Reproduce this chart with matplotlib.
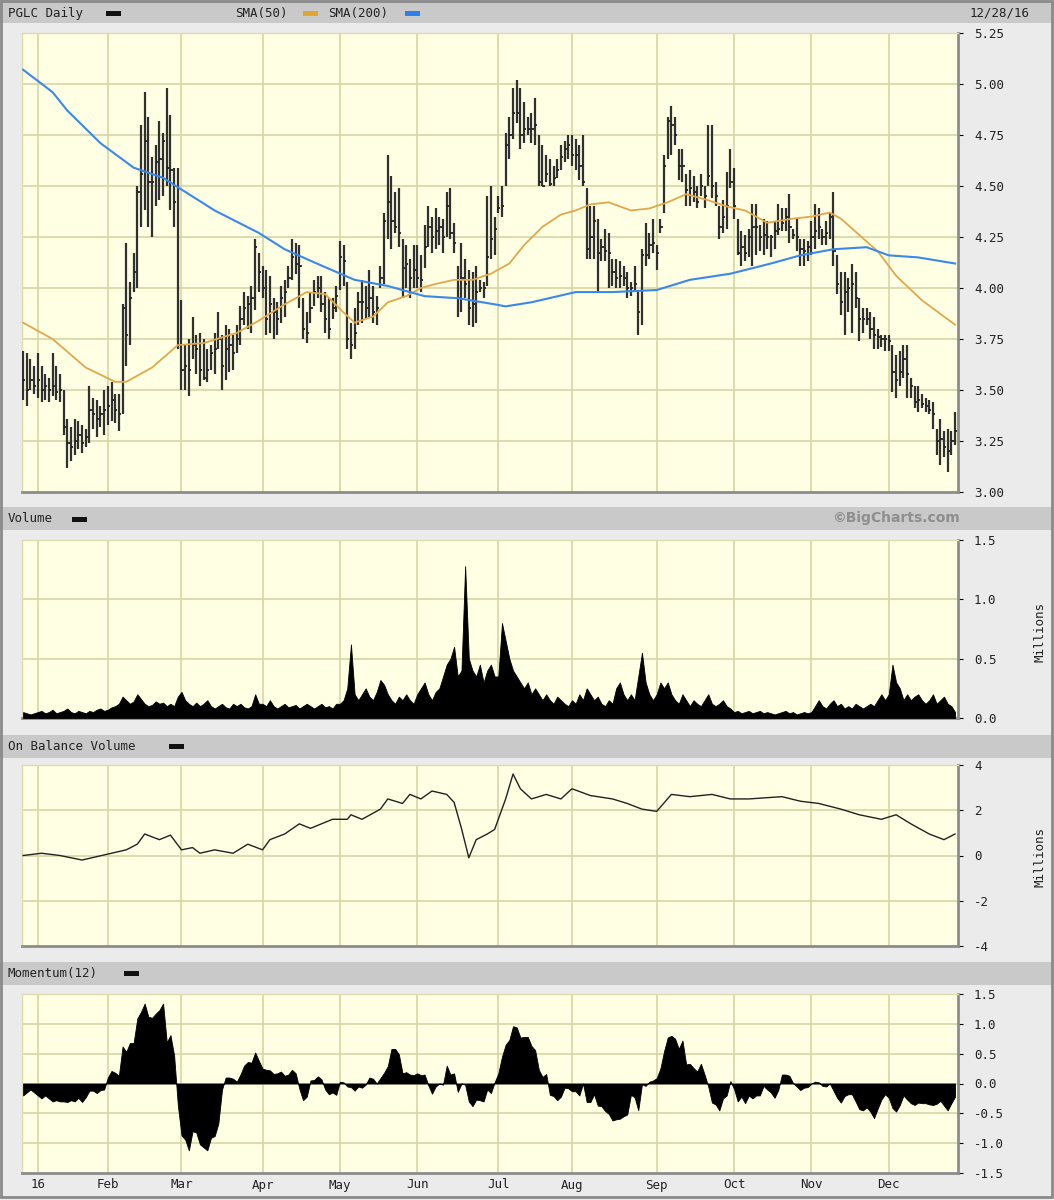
import numpy as np
import pandas as pd
import matplotlib
matplotlib.use("Agg")
import matplotlib.pyplot as plt
from matplotlib.patches import Rectangle

# ---------------- DATA ----------------
holidays = ['2016-01-01', '2016-01-18', '2016-02-15', '2016-03-25', '2016-05-30',
            '2016-07-04', '2016-09-05', '2016-11-24', '2016-12-26']
dates = pd.bdate_range('2015-12-28', '2016-12-28', freq='C', holidays=holidays)

high = [3.69, 3.68, 3.65, 3.62,
        3.68, 3.62, 3.58, 3.56, 3.68, 3.62, 3.58, 3.50, 3.36, 3.32, 3.36, 3.35, 3.33, 3.31, 3.52, 3.46, 3.45, 3.42, 3.50,
        3.52, 3.54, 3.48, 3.48, 3.92, 4.22, 4.03, 4.17, 4.50, 4.80, 4.96, 4.84, 4.64, 4.70, 4.82, 4.76, 4.98, 4.85, 4.59, 4.59,
        3.94, 3.72, 3.75, 3.86, 3.77, 3.78, 3.75, 3.70, 3.72, 3.78, 3.88, 3.77, 3.82, 3.80, 3.77, 3.82, 3.91, 3.98, 3.96, 4.01, 4.24, 4.17,
        4.11, 4.09, 4.06, 3.95, 3.93, 4.01, 4.04, 4.11, 4.24, 4.22, 4.21, 3.95, 3.88, 3.98, 4.04, 4.06, 4.06, 3.98, 3.95, 3.95, 4.01,
        4.23, 4.21, 4.03, 3.83, 3.90, 3.98, 4.04, 4.01, 4.09, 4.01, 3.96, 4.11, 4.37, 4.65, 4.55, 4.47, 4.49, 4.24, 4.21, 4.14, 4.21,
        4.21, 4.16, 4.31, 4.40, 4.35, 4.39, 4.35, 4.34, 4.47, 4.49, 4.32, 4.11, 4.22, 4.14, 4.09, 4.08, 4.11, 4.04, 4.03, 4.45, 4.50, 4.35,
        4.45, 4.50, 4.76, 4.84, 4.98, 5.02, 4.98, 4.91, 4.84, 4.86, 4.93, 4.75, 4.70, 4.65, 4.63, 4.60, 4.63, 4.70, 4.72, 4.75,
        4.75, 4.73, 4.70, 4.75, 4.49, 4.40, 4.40, 4.34, 4.24, 4.29, 4.27, 4.14, 4.14, 4.13, 4.11, 4.08, 4.03, 4.11, 3.99, 4.19, 4.32, 4.27, 4.34,
        4.21, 4.34, 4.65, 4.84, 4.89, 4.84, 4.68, 4.68, 4.56, 4.58, 4.55, 4.50, 4.56, 4.50, 4.80, 4.80, 4.52, 4.40, 4.43, 4.57, 4.68,
        4.59, 4.34, 4.28, 4.26, 4.29, 4.41, 4.41, 4.31, 4.34, 4.33, 4.26, 4.33, 4.41, 4.39, 4.39, 4.46, 4.29, 4.34, 4.24, 4.24, 4.23,
        4.33, 4.41, 4.39, 4.29, 4.33, 4.37, 4.47, 4.16, 4.08, 4.08, 4.05, 4.12, 4.08, 3.95, 3.90, 3.90, 3.88, 3.86, 3.80, 3.77, 3.77,
        3.77, 3.72, 3.67, 3.69, 3.72, 3.72, 3.56, 3.52, 3.52, 3.48, 3.46, 3.45, 3.44, 3.31, 3.36, 3.30, 3.31, 3.30, 3.39]

low = [3.45, 3.42, 3.50, 3.48,
       3.46, 3.44, 3.45, 3.44, 3.47, 3.45, 3.44, 3.28, 3.12, 3.15, 3.18, 3.21, 3.19, 3.22, 3.24, 3.31, 3.27, 3.32, 3.28,
       3.33, 3.35, 3.34, 3.30, 3.38, 3.62, 3.72, 3.98, 4.00, 4.30, 4.38, 4.30, 4.25, 4.40, 4.43, 4.45, 4.50, 4.38, 4.30, 3.70,
       3.50, 3.50, 3.47, 3.65, 3.58, 3.52, 3.55, 3.54, 3.60, 3.58, 3.70, 3.50, 3.55, 3.59, 3.60, 3.68, 3.72, 3.82, 3.80, 3.78, 3.89, 3.98,
       3.95, 3.77, 3.78, 3.75, 3.77, 3.83, 3.86, 4.00, 4.04, 4.07, 3.90, 3.75, 3.73, 3.83, 3.91, 3.95, 3.88, 3.78, 3.75, 3.85, 3.88,
       3.99, 4.01, 3.70, 3.65, 3.70, 3.82, 3.83, 3.85, 3.86, 3.83, 3.82, 4.00, 4.02, 4.24, 4.19, 4.27, 4.20, 3.95, 4.00, 3.95, 4.00,
       4.00, 3.98, 4.10, 4.20, 4.17, 4.19, 4.21, 4.17, 4.25, 4.24, 4.17, 3.86, 3.88, 3.95, 3.82, 3.81, 3.83, 3.98, 3.95, 4.01, 4.14, 4.16,
       4.37, 4.35, 4.50, 4.63, 4.73, 4.81, 4.68, 4.71, 4.75, 4.71, 4.70, 4.50, 4.50, 4.52, 4.50, 4.50, 4.54, 4.58, 4.62, 4.63,
       4.60, 4.58, 4.53, 4.50, 4.14, 4.14, 4.14, 3.98, 4.13, 4.13, 4.00, 4.01, 4.00, 4.00, 4.01, 3.95, 3.96, 3.98, 3.77, 3.82, 4.11, 4.14, 4.17,
       4.09, 4.27, 4.37, 4.63, 4.65, 4.70, 4.53, 4.52, 4.40, 4.40, 4.42, 4.39, 4.45, 4.39, 4.50, 4.44, 4.40, 4.24, 4.27, 4.29, 4.49,
       4.34, 4.16, 4.11, 4.13, 4.15, 4.11, 4.16, 4.18, 4.16, 4.19, 4.15, 4.19, 4.26, 4.28, 4.28, 4.22, 4.24, 4.18, 4.11, 4.11, 4.13,
       4.16, 4.19, 4.24, 4.21, 4.21, 4.24, 4.11, 3.97, 3.87, 3.77, 3.88, 3.78, 3.90, 3.74, 3.78, 3.82, 3.75, 3.70, 3.70, 3.71, 3.69,
       3.69, 3.49, 3.46, 3.52, 3.56, 3.46, 3.46, 3.41, 3.39, 3.41, 3.39, 3.38, 3.31, 3.18, 3.13, 3.17, 3.10, 3.18, 3.23]

close = [3.55, 3.50, 3.55, 3.52,
         3.55, 3.50, 3.52, 3.50, 3.52, 3.49, 3.50, 3.32, 3.24, 3.22, 3.25, 3.28, 3.24, 3.27, 3.40, 3.38, 3.36, 3.38, 3.40,
         3.42, 3.45, 3.40, 3.38, 3.90, 3.77, 3.95, 4.08, 4.47, 4.56, 4.72, 4.52, 4.52, 4.62, 4.63, 4.72, 4.59, 4.58, 4.42, 3.72,
         3.60, 3.62, 3.60, 3.72, 3.70, 3.60, 3.56, 3.60, 3.68, 3.70, 3.75, 3.62, 3.70, 3.72, 3.68, 3.75, 3.85, 3.90, 3.92, 3.95, 4.20, 4.08,
         4.00, 3.85, 3.92, 3.88, 3.85, 3.95, 3.98, 4.05, 4.15, 4.12, 4.11, 3.80, 3.78, 3.90, 3.98, 4.00, 3.92, 3.85, 3.80, 3.90, 3.96,
         4.15, 4.13, 3.75, 3.72, 3.78, 3.93, 3.93, 3.90, 3.95, 3.88, 3.90, 4.05, 4.33, 4.42, 4.33, 4.30, 4.27, 4.10, 4.12, 4.05, 4.09,
         4.05, 4.04, 4.20, 4.30, 4.25, 4.28, 4.30, 4.25, 4.40, 4.27, 4.22, 3.95, 4.05, 4.02, 3.90, 3.92, 3.98, 4.00, 4.00, 4.15, 4.24, 4.29,
         4.39, 4.40, 4.70, 4.75, 4.86, 4.86, 4.75, 4.78, 4.78, 4.78, 4.80, 4.52, 4.50, 4.56, 4.51, 4.54, 4.58, 4.64, 4.68, 4.70,
         4.65, 4.65, 4.60, 4.52, 4.19, 4.25, 4.33, 4.17, 4.20, 4.18, 4.17, 4.08, 4.05, 4.06, 4.05, 4.00, 4.00, 4.02, 3.88, 4.16, 4.16, 4.21, 4.22,
         4.17, 4.30, 4.60, 4.82, 4.80, 4.75, 4.60, 4.60, 4.48, 4.49, 4.47, 4.42, 4.50, 4.45, 4.55, 4.50, 4.45, 4.30, 4.35, 4.40, 4.52,
         4.40, 4.17, 4.20, 4.17, 4.25, 4.30, 4.30, 4.25, 4.26, 4.25, 4.25, 4.28, 4.29, 4.32, 4.35, 4.30, 4.26, 4.25, 4.19, 4.18, 4.20,
         4.25, 4.28, 4.30, 4.25, 4.27, 4.35, 4.18, 4.02, 3.93, 3.98, 4.00, 4.02, 3.95, 3.85, 3.85, 3.85, 3.80, 3.77, 3.76, 3.75, 3.75,
         3.74, 3.59, 3.55, 3.59, 3.65, 3.58, 3.52, 3.44, 3.45, 3.43, 3.42, 3.40, 3.38, 3.25, 3.26, 3.22, 3.20, 3.25, 3.30]

# moving averages at sample dates
sma50_dates = ['2015-12-28', '2016-01-08', '2016-01-22', '2016-02-03', '2016-02-08', '2016-02-18', '2016-02-29',
               '2016-03-09', '2016-03-22', '2016-03-31', '2016-04-11', '2016-04-19', '2016-04-26', '2016-05-03',
               '2016-05-06', '2016-05-13', '2016-05-19', '2016-05-26', '2016-06-02', '2016-06-08', '2016-06-15',
               '2016-06-22', '2016-06-29', '2016-07-07', '2016-07-13', '2016-07-20', '2016-07-27', '2016-08-02',
               '2016-08-08', '2016-08-15', '2016-08-23', '2016-08-30', '2016-09-07', '2016-09-14', '2016-09-22',
               '2016-09-29', '2016-10-06', '2016-10-14', '2016-10-25', '2016-11-01', '2016-11-08', '2016-11-11',
               '2016-11-18', '2016-11-28', '2016-12-05', '2016-12-14', '2016-12-28']
sma50 = [3.83, 3.75, 3.61, 3.54, 3.54, 3.61, 3.72, 3.73, 3.78, 3.84, 3.92, 3.98, 3.97, 3.88, 3.83, 3.86, 3.93,
         3.96, 4.00, 4.02, 4.04, 4.04, 4.07, 4.12, 4.21, 4.30, 4.36, 4.38, 4.41, 4.42, 4.38, 4.39, 4.42, 4.46,
         4.43, 4.40, 4.38, 4.32, 4.34, 4.35, 4.37, 4.34, 4.26, 4.18, 4.06, 3.94, 3.82]

sma200_dates = ['2015-12-28', '2016-01-08', '2016-01-14', '2016-01-28', '2016-02-10', '2016-02-23', '2016-03-14',
                '2016-03-31', '2016-04-11', '2016-04-25', '2016-05-06', '2016-05-19', '2016-06-03', '2016-06-16',
                '2016-06-30', '2016-07-06', '2016-07-15', '2016-08-02', '2016-08-16', '2016-09-01', '2016-09-15',
                '2016-09-30', '2016-10-17', '2016-10-27', '2016-11-09', '2016-11-22', '2016-12-01', '2016-12-13',
                '2016-12-28']
sma200 = [5.07, 4.96, 4.87, 4.71, 4.59, 4.54, 4.38, 4.27, 4.19, 4.11, 4.04, 4.01, 3.96, 3.95, 3.92, 3.91, 3.93,
          3.98, 3.98, 3.99, 4.04, 4.07, 4.12, 4.16, 4.19, 4.20, 4.16, 4.15, 4.12]

# daily volume, millions
volume = [0.05, 0.04, 0.03, 0.04,
          0.05, 0.06, 0.04, 0.05, 0.07, 0.04, 0.05, 0.06, 0.08, 0.05, 0.04, 0.06, 0.05, 0.04, 0.06, 0.05, 0.07, 0.08, 0.06,
          0.07, 0.09, 0.10, 0.12, 0.18, 0.15, 0.12, 0.14, 0.20, 0.16, 0.12, 0.10, 0.11, 0.14, 0.12, 0.13, 0.10, 0.12, 0.10, 0.18,
          0.22, 0.15, 0.12, 0.10, 0.13, 0.10, 0.12, 0.15, 0.10, 0.08, 0.10, 0.12, 0.09, 0.08, 0.12, 0.10, 0.12, 0.09, 0.08, 0.10, 0.20, 0.12,
          0.12, 0.10, 0.15, 0.10, 0.08, 0.10, 0.12, 0.09, 0.10, 0.11, 0.08, 0.10, 0.12, 0.10, 0.08, 0.10, 0.12, 0.09, 0.10, 0.08, 0.12,
          0.12, 0.15, 0.25, 0.62, 0.20, 0.15, 0.20, 0.25, 0.18, 0.15, 0.22, 0.32, 0.28, 0.20, 0.15, 0.12, 0.18, 0.15, 0.20, 0.15, 0.12,
          0.20, 0.25, 0.30, 0.20, 0.15, 0.22, 0.25, 0.35, 0.45, 0.50, 0.60, 0.35, 0.40, 1.28, 0.50, 0.40, 0.35, 0.45, 0.30, 0.40, 0.45, 0.35,
          0.35, 0.80, 0.65, 0.50, 0.40, 0.35, 0.30, 0.25, 0.30, 0.20, 0.25, 0.20, 0.15, 0.20, 0.15, 0.12, 0.18, 0.15, 0.12, 0.10,
          0.15, 0.12, 0.20, 0.15, 0.25, 0.20, 0.15, 0.18, 0.12, 0.10, 0.15, 0.12, 0.25, 0.30, 0.20, 0.15, 0.20, 0.15, 0.35, 0.55, 0.30, 0.20, 0.15,
          0.20, 0.30, 0.25, 0.30, 0.20, 0.15, 0.12, 0.20, 0.15, 0.10, 0.15, 0.12, 0.10, 0.15, 0.20, 0.12, 0.10, 0.12, 0.15, 0.10, 0.08,
          0.05, 0.06, 0.04, 0.05, 0.06, 0.04, 0.05, 0.06, 0.04, 0.05, 0.04, 0.03, 0.04, 0.05, 0.06, 0.04, 0.05, 0.03, 0.04, 0.05, 0.04,
          0.05, 0.10, 0.15, 0.10, 0.08, 0.12, 0.15, 0.10, 0.12, 0.08, 0.10, 0.08, 0.12, 0.10, 0.08, 0.10, 0.12, 0.10, 0.15, 0.20, 0.15,
          0.20, 0.45, 0.30, 0.25, 0.15, 0.20, 0.15, 0.18, 0.20, 0.15, 0.12, 0.15, 0.20, 0.12, 0.15, 0.18, 0.12, 0.10, 0.05]

# on balance volume (millions) read at sample dates
obv_idx = [0, 5, 10, 16, 20, 24, 28, 31, 33, 37, 40, 43, 46, 48, 52, 57, 61, 65, 67, 71, 75, 78, 84, 88, 89, 92,
           97, 99, 103, 105, 108, 111, 115, 117, 119, 121, 123, 126, 128, 131, 133, 135, 138, 142, 146, 149, 154,
           160, 164, 168, 172, 176, 181, 187, 192, 197, 206, 211, 216, 222, 227, 233, 237, 241, 246, 250, 253]
obv = [0, 0.1, 0, -0.2, -0.05, 0.1, 0.25, 0.5, 0.95, 0.7, 0.9, 0.25, 0.35, 0.1, 0.25, 0.1, 0.5, 0.25, 0.7, 0.95,
       1.4, 1.2, 1.6, 1.6, 1.8, 1.6, 2.05, 2.5, 2.3, 2.7, 2.5, 2.85, 2.7, 2.35, 1.2, -0.1, 0.7, 0.95, 1.15, 2.5, 3.6,
       2.95, 2.5, 2.7, 2.5, 2.95, 2.65, 2.5, 2.3, 2.05, 1.95, 2.7, 2.6, 2.7, 2.5, 2.5, 2.6, 2.4, 2.3, 2.05, 1.8, 1.6,
       1.8, 1.4, 0.95, 0.7, 0.95]

# momentum(12) for the first 12 sessions (earlier closes not shown on chart)
mom_first = [-0.20, -0.15, -0.10, -0.15, -0.20, -0.25, -0.20, -0.25, -0.30, -0.28, -0.30, -0.30]

month_labels = ['16', 'Feb', 'Mar', 'Apr', 'May', 'Jun', 'Jul', 'Aug', 'Sep', 'Oct', 'Nov', 'Dec']

# ---------------- DERIVED ----------------
n = len(dates)
x = np.arange(n)
high = np.array(high); low = np.array(low); close = np.array(close)
vol = np.array(volume)
date_pos = {d: i for i, d in enumerate(dates)}
def pos(ds):
    return [date_pos[pd.Timestamp(d)] for d in ds]
mom = np.array(mom_first + [close[i] - close[i - 12] for i in range(12, n)])
months = pd.Series(dates).dt.to_period('M')
first_days = [i for i in range(n) if i > 0 and months[i] != months[i - 1]]

# ---------------- FIGURE ----------------
W, H = 1054, 1200
fig = plt.figure(figsize=(W / 100, H / 100), dpi=100)
fig.patch.set_facecolor('#ebebeb')

def frect(x0, y0, w, h, **kw):
    fig.add_artist(Rectangle((x0 / W, 1 - (y0 + h) / H), w / W, h / H,
                             transform=fig.transFigure, **kw))

# header bars
for y0 in [0, 507, 735, 962]:
    frect(0, y0, W, 23, facecolor='#c9c9c9', edgecolor='none', zorder=0)
# outer frame
frect(1, 1, W - 3, H - 4, facecolor='none', edgecolor='#8a8a8a', lw=2, zorder=5)

mono = 'DejaVu Sans Mono'
def ftext(xp, yp, s, **kw):
    kw.setdefault('fontsize', 9)
    kw.setdefault('family', mono)
    kw.setdefault('color', '#222222')
    fig.text(xp / W, 1 - yp / H, s, va='center', **kw)

def legend_dash(xp, yp, color):
    frect(xp, yp - 2.5, 15, 5, facecolor=color, edgecolor='none', zorder=3)

ftext(8, 13, 'PGLC Daily'); legend_dash(106, 13, '#111111')
ftext(235, 13, 'SMA(50)'); legend_dash(303, 13, '#e0a630')
ftext(328, 13, 'SMA(200)'); legend_dash(405, 13, '#2f7fe8')
ftext(1030, 13, '12/28/16', ha='right')
ftext(8, 519, 'Volume'); legend_dash(72, 519, '#111111')
ftext(960, 518, '\u00a9BigCharts.com', ha='right', family='DejaVu Sans', fontweight='bold',
      color='#8e8e8e', fontsize=10)
ftext(8, 746, 'On Balance Volume'); legend_dash(169, 746, '#111111')
ftext(8, 973, 'Momentum(12)'); legend_dash(124, 973, '#111111')

L, R = 22, 958
def panel(top, bottom):
    ax = fig.add_axes([L / W, 1 - bottom / H, (R - L) / W, (bottom - top) / H])
    ax.set_facecolor('#ffffe3')
    ax.set_xlim(-0.3, n - 0.2)
    ax.tick_params(left=False, bottom=False, right=False, top=False,
                   labelleft=False, labelbottom=False, labelright=True,
                   labelsize=9, pad=8)
    ax.spines['left'].set_color('#dcdcb0'); ax.spines['top'].set_color('#dcdcb0')
    ax.spines['left'].set_linewidth(1); ax.spines['top'].set_linewidth(1)
    ax.spines['right'].set_color('#8c8c8c'); ax.spines['bottom'].set_color('#8c8c8c')
    ax.spines['right'].set_linewidth(2); ax.spines['bottom'].set_linewidth(2)
    for fd in first_days:
        ax.axvline(fd, color='#d6d6a4', lw=1.2, zorder=1)
    return ax

def yticks(ax, ticks, labels, grid):
    ax.yaxis.tick_right()
    ax.set_yticks(ticks)
    ax.set_yticklabels(labels, family=mono, fontsize=9, color='#222222')
    for g in grid:
        ax.axhline(g, color='#d6d6a4', lw=1.2, zorder=1)

# price
axp = panel(33, 492)
axp.set_ylim(3.0, 5.25)
pt = [3.0, 3.25, 3.5, 3.75, 4.0, 4.25, 4.5, 4.75, 5.0, 5.25]
yticks(axp, pt, ['%.2f' % v for v in pt], pt[1:-1])
axp.vlines(x, low, high, color='#303030', lw=1.6, zorder=3)
axp.hlines(close, x, x + 0.6, color='#202020', lw=1.3, zorder=3)
axp.plot(pos(sma50_dates), sma50, color='#e0a84a', lw=1.3, zorder=4)
axp.plot(pos(sma200_dates), sma200, color='#3b88ec', lw=1.5, zorder=4)

# volume
axv = panel(540, 718)
axv.set_ylim(0, 1.5)
yticks(axv, [0, 0.5, 1.0, 1.5], ['0.0', '0.5', '1.0', '1.5'], [0.5, 1.0])
axv.fill_between(x, 0, vol, color='black', lw=0.6, zorder=3)
fig.text(1040 / W, 1 - 632 / H, 'Millions', rotation=90, va='center', ha='center',
         family=mono, fontsize=9, color='#222222')

# OBV
axo = panel(765, 946)
axo.set_ylim(-4, 4)
yticks(axo, [-4, -2, 0, 2, 4], ['-4', '-2', '0', '2', '4'], [-2, 0, 2])
axo.plot(obv_idx, obv, color='#222222', lw=1.0, zorder=3)
fig.text(1040 / W, 1 - 857 / H, 'Millions', rotation=90, va='center', ha='center',
         family=mono, fontsize=9, color='#222222')

# momentum
axm = panel(994, 1173)
axm.set_ylim(-1.5, 1.5)
mt = [-1.5, -1.0, -0.5, 0.0, 0.5, 1.0, 1.5]
yticks(axm, mt, ['%.1f' % v for v in mt], mt[1:-1])
axm.fill_between(x, 0, mom, color='black', lw=0.6, zorder=3)

# month labels
for fd, lab in zip([4] + first_days[1:], month_labels):
    xpix = L + (fd + 0.3) / (n - 0.2 + 0.3) * (R - L)
    ftext(xpix, 1185, lab, ha='center')

fig.savefig('out.png', dpi=100, facecolor=fig.get_facecolor())
